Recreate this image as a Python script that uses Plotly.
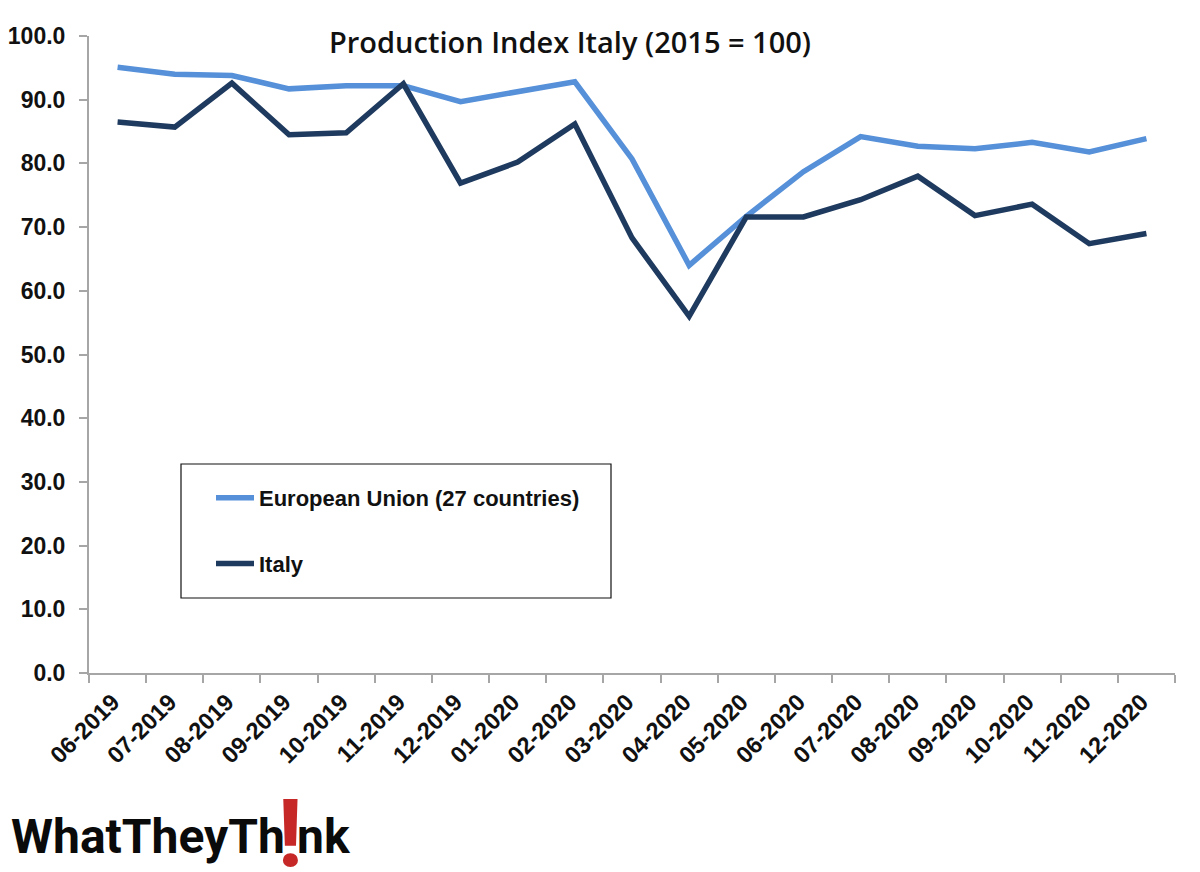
import plotly.graph_objects as go

months = ["06-2019", "07-2019", "08-2019", "09-2019", "10-2019", "11-2019", "12-2019",
          "01-2020", "02-2020", "03-2020", "04-2020", "05-2020", "06-2020", "07-2020",
          "08-2020", "09-2020", "10-2020", "11-2020", "12-2020"]
eu27 = [95.1, 94.0, 93.8, 91.7, 92.2, 92.2, 89.7, 91.3, 92.8, 80.7, 64.0, 71.7,
        78.7, 84.2, 82.7, 82.3, 83.3, 81.8, 83.9]
italy = [86.5, 85.7, 92.6, 84.5, 84.8, 92.5, 76.9, 80.2, 86.2, 68.3, 56.0, 71.6,
         71.6, 74.3, 78.0, 71.8, 73.6, 67.4, 69.0]
y_ticks = [0, 10, 20, 30, 40, 50, 60, 70, 80, 90, 100]

# the page has an 8px body margin, so the figure sits at (8, 8)
W, H = 1192, 864
L, R, T, B = 81, 25, 28, 199
FONT = "Liberation Sans"
LOGO_FONT = "Roboto"


# reference pixel -> paper coordinates
def px(x):
    return (x - 8 - L) / (W - L - R)


def py(y):
    return (H - B - (y - 8)) / (H - T - B)


fig = go.Figure()
fig.add_trace(go.Scatter(x=months, y=eu27, mode="lines", name="European Union (27 countries)",
                         legendgroup="eu", line=dict(color="#5590D9", width=5.5)))
fig.add_trace(go.Scatter(x=months, y=italy, mode="lines", name="Italy",
                         legendgroup="it", line=dict(color="#1F3A5F", width=5.5)))

# legend frame
fig.add_shape(type="rect", xref="paper", yref="paper", x0=px(181), x1=px(611), y0=py(598), y1=py(464),
              line=dict(color="#111111", width=1.2), fillcolor="white", layer="below")

fig.add_annotation(text="Production Index Italy (2015 = 100)", xref="paper", yref="paper",
                   x=px(570), y=py(42), showarrow=False, xanchor="center", yanchor="middle",
                   font=dict(family="Open Sans", size=29, weight=600, color="#111111"))

# logo
logo_y = py(836)
fig.add_annotation(text="<b>WhatTheyTh</b>", xref="paper", yref="paper", x=px(10), y=logo_y,
                   showarrow=False, xanchor="left", yanchor="middle", borderpad=0,
                   font=dict(family=LOGO_FONT, size=48, color="#0A0A0A"))
fig.add_annotation(text="<b>!</b>", xref="paper", yref="paper", x=px(289.5), y=py(833),
                   showarrow=False, xanchor="center", yanchor="middle", borderpad=0,
                   height=74, width=16, valign="middle",
                   font=dict(family=LOGO_FONT, size=95, color="#C62828"))
fig.add_annotation(text="<b>nk</b>", xref="paper", yref="paper", x=px(296), y=logo_y,
                   showarrow=False, xanchor="left", yanchor="middle", borderpad=0,
                   font=dict(family=LOGO_FONT, size=48, color="#0A0A0A"))

fig.update_layout(
    width=W, height=H, autosize=False,
    margin=dict(l=L, r=R, t=T, b=B, pad=0),
    paper_bgcolor="white", plot_bgcolor="white",
    font=dict(family=FONT, color="#111111"),
    showlegend=True,
    legend=dict(x=px(211), y=py(477), xanchor="left", yanchor="top", bgcolor="rgba(0,0,0,0)",
                traceorder="grouped", tracegroupgap=34, itemwidth=38,
                font=dict(family=FONT, size=22, weight="bold", color="#111111")),
)
fig.update_xaxes(type="category", categoryorder="array", categoryarray=months, tickson="boundaries",
                 range=[-0.5, 18.5], ticks="outside", ticklen=8, tickwidth=1.5, tickcolor="#A6A6A6",
                 showgrid=False, showline=True, linecolor="#A6A6A6", linewidth=2, zeroline=False,
                 automargin=False, tickangle=-45, ticklabelshift=-5, ticklabelstandoff=4,
                 tickfont=dict(family=FONT, size=23.5, weight="bold", color="#111111"))
fig.update_yaxes(range=[0, 100], tickvals=y_ticks, tickformat=".1f", ticks="outside", ticklen=8,
                 tickwidth=1.5, tickcolor="#A6A6A6", showgrid=False, showline=True, linecolor="#A6A6A6",
                 linewidth=2, zeroline=False, ticklabelstandoff=9, automargin=False,
                 tickfont=dict(family=FONT, size=23, weight="bold", color="#111111"))

fig.write_html("out.html")
